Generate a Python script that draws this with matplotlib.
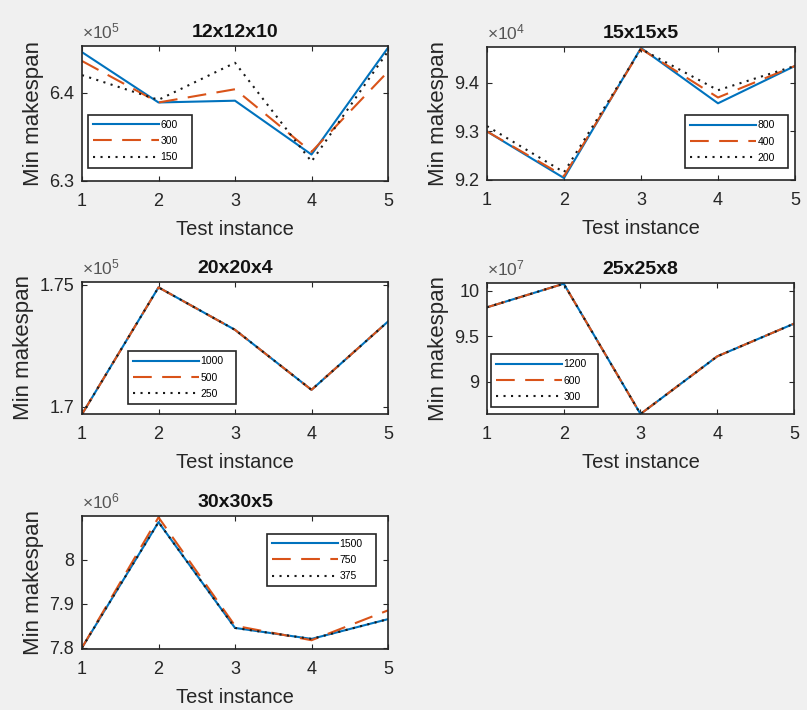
import matplotlib
matplotlib.use("Agg")
import matplotlib.pyplot as plt
from matplotlib.ticker import FuncFormatter, FixedLocator

plt.rcParams['font.family'] = ['Liberation Sans', 'DejaVu Sans']
plt.rcParams['mathtext.fontset'] = 'custom'
plt.rcParams['mathtext.rm'] = 'Liberation Sans'
plt.rcParams['mathtext.it'] = 'Liberation Sans'

# ---------------- data ----------------
instances = [1, 2, 3, 4, 5]

titles = ["12x12x10", "15x15x5", "20x20x4", "25x25x8", "30x30x5"]
exponents = [5, 4, 5, 7, 6]

labels_12 = ["600", "300", "150"]
s12_a = [6.446e5, 6.389e5, 6.391e5, 6.330e5, 6.451e5]
s12_b = [6.436e5, 6.389e5, 6.404e5, 6.333e5, 6.424e5]
s12_c = [6.420e5, 6.392e5, 6.434e5, 6.322e5, 6.447e5]

labels_15 = ["800", "400", "200"]
s15_a = [9.300e4, 9.204e4, 9.472e4, 9.358e4, 9.435e4]
s15_b = [9.300e4, 9.208e4, 9.470e4, 9.370e4, 9.435e4]
s15_c = [9.311e4, 9.216e4, 9.470e4, 9.385e4, 9.435e4]

labels_20 = ["1000", "500", "250"]
s20_a = [1.697e5, 1.749e5, 1.7316e5, 1.707e5, 1.735e5]
s20_b = [1.697e5, 1.749e5, 1.7316e5, 1.707e5, 1.735e5]
s20_c = [1.697e5, 1.749e5, 1.7316e5, 1.707e5, 1.735e5]

labels_25 = ["1200", "600", "300"]
s25_a = [9.82e7, 10.08e7, 8.645e7, 9.28e7, 9.64e7]
s25_b = [9.82e7, 10.08e7, 8.645e7, 9.28e7, 9.64e7]
s25_c = [9.82e7, 10.08e7, 8.645e7, 9.28e7, 9.64e7]

labels_30 = ["1500", "750", "375"]
s30_a = [7.800e6, 8.086e6, 7.845e6, 7.820e6, 7.865e6]
s30_b = [7.800e6, 8.097e6, 7.850e6, 7.817e6, 7.885e6]
s30_c = [7.800e6, 8.086e6, 7.845e6, 7.820e6, 7.865e6]

y_limits = [(6.30e5, 6.453e5), (9.20e4, 9.474e4), (1.6971e5, 1.7512e5),
            (8.645e7, 10.088e7), (7.797e6, 8.10e6)]
y_ticks = [[6.3e5, 6.4e5], [9.2e4, 9.3e4, 9.4e4], [1.70e5, 1.75e5],
           [9.0e7, 9.5e7, 10.0e7], [7.8e6, 7.9e6, 8.0e6]]

series = [(s12_a, s12_b, s12_c, labels_12),
          (s15_a, s15_b, s15_c, labels_15),
          (s20_a, s20_b, s20_c, labels_20),
          (s25_a, s25_b, s25_c, labels_25),
          (s30_a, s30_b, s30_c, labels_30)]

# ---------------- layout (pixels: left, top, right, bottom) ----------------
W, H = 807, 710
boxes = [(82, 46, 388, 181), (487, 47, 795, 180), (82, 282, 388, 414),
         (487, 283, 794, 414), (82, 516, 388, 649)]
legend_anchor = [(0.02, 0.10, 0.34), (0.643, 0.09, 0.334), (0.15, 0.076, 0.353),
                 (0.013, 0.053, 0.35), (0.605, 0.47, 0.356)]

blue = '#0072BD'
orange = '#D95319'
edge = '#262626'

fig = plt.figure(figsize=(W / 100, H / 100), dpi=100)
fig.patch.set_facecolor('#f0f0f0')

for i, (box, (a, b, c, labs)) in enumerate(zip(boxes, series)):
    l, t, r, bt = box
    ax = fig.add_axes([l / W, 1 - bt / H, (r - l) / W, (bt - t) / H])
    ax.set_facecolor('white')
    ax.plot(instances, a, color=blue, lw=1.5, label=labs[0])
    ax.plot(instances, b, color=orange, lw=1.5, ls=(0, (9, 5)), label=labs[1])
    ax.plot(instances, c, color='#1a1a1a', lw=1.5, ls=(0, (1, 2.6)), label=labs[2])
    ax.set_xlim(1, 5)
    ax.set_ylim(*y_limits[i])
    ax.set_xticks(instances)
    ax.yaxis.set_major_locator(FixedLocator(y_ticks[i]))
    e = exponents[i]
    ax.yaxis.set_major_formatter(FuncFormatter(lambda v, p, e=e: f"{v / 10**e:g}"))
    ax.tick_params(direction='in', top=True, right=True, length=3.5, width=0.8,
                   colors=edge, labelsize=13, labelcolor='#262626')
    ax.tick_params(axis='y', pad=5.5)
    ax.tick_params(axis='x', pad=8.5)
    for sp in ax.spines.values():
        sp.set_color(edge)
        sp.set_linewidth(1.2)
    ax.set_title(titles[i], fontsize=14, fontweight='bold', pad=6.5, color='#111111')
    ax.set_xlabel("Test instance", fontsize=14.5, color='#262626', labelpad=7)
    ax.set_ylabel("Min makespan", fontsize=16, color='#262626', labelpad=4)
    ax.annotate(r"$\times10^{%d}$" % e, xy=(0, 1), xycoords='axes fraction',
                xytext=(0, 3), textcoords='offset points', ha='left', va='bottom',
                fontsize=12.5, color='#555555')
    x0, y0, w = legend_anchor[i]
    leg = ax.legend(loc='lower left', bbox_to_anchor=(x0, y0, w, 0.1), mode='expand',
                    fontsize=7.5, handlelength=6.3, handletextpad=0.15,
                    labelspacing=0.6, borderpad=0.5, borderaxespad=0,
                    fancybox=False, framealpha=1, edgecolor='#262626')
    leg.get_frame().set_linewidth(1.2)

fig.savefig("out.png", dpi=100, facecolor=fig.get_facecolor())
